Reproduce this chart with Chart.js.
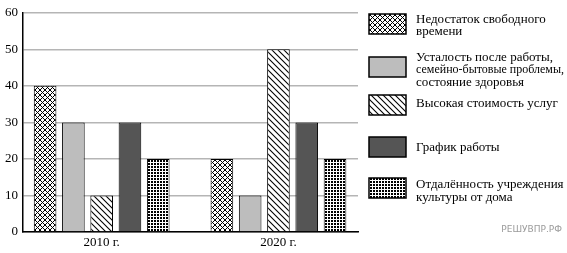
<!DOCTYPE html>
<html><head><meta charset="utf-8">
<script src="https://cdn.jsdelivr.net/npm/chart.js@4/dist/chart.umd.min.js"></script>
<style>html,body{margin:0;padding:0;background:#fff}#wrap{width:567px;height:253px;position:relative}</style>
</head><body><div id="wrap"><canvas id="c" width="567" height="253"></canvas></div>
<script>
const categories = ['2010 г.', '2020 г.'];
const seriesNames = [
  ['Недостаток свободного', 'времени'],
  ['Усталость после работы,', 'семейно-бытовые проблемы,', 'состояние здоровья'],
  ['Высокая стоимость услуг'],
  ['График работы'],
  ['Отдалённость учреждения', 'культуры от дома']
];
const lackOfTime = [40, 20];
const fatigue = [30, 10];
const highCost = [10, 50];
const schedule = [30, 30];
const distance = [20, 20];
const yTicks = [0, 10, 20, 30, 40, 50, 60];

function tile(w, h, draw) {
  const c = document.createElement('canvas'); c.width = w; c.height = h;
  const g = c.getContext('2d'); g.fillStyle = '#fff'; g.fillRect(0, 0, w, h); draw(g, w, h);
  return document.getElementById('c').getContext('2d').createPattern(c, 'repeat');
}
const pCross = tile(5, 5, (g, w, h) => {
  g.strokeStyle = '#000'; g.lineWidth = 1;
  g.beginPath(); g.moveTo(-1, -1); g.lineTo(w + 1, h + 1); g.moveTo(-1, h + 1); g.lineTo(w + 1, -1); g.stroke();
});
const pDiag = tile(6, 6, (g, w, h) => {
  g.strokeStyle = '#000'; g.lineWidth = 1.1;
  g.beginPath();
  for (let k = -1; k <= 1; k++) { g.moveTo(k * w - 1, -1); g.lineTo(k * w + w + 1, h + 1); }
  g.stroke();
});
const pGrid = tile(3, 3, (g) => { g.fillStyle = '#000'; g.fillRect(1, 1, 2, 2); });

const fills = [pCross, '#bdbdbd', pDiag, '#555555', pGrid];
const seriesValues = [lackOfTime, fatigue, highCost, schedule, distance];

const datasets = seriesValues.map((vals, i) => ({
  label: seriesNames[i].join(' '),
  data: vals.map((v, j) => ({ x: j, y: v })),
  backgroundColor: fills[i],
  borderColor: '#000',
  borderWidth: 1,
  categoryPercentage: 0.8,
  barPercentage: 0.8
}));

const legendPlugin = {
  id: 'sideLegend',
  afterDraw(chart) {
    const ctx = chart.ctx;
    const swTop = [14, 57, 95, 137, 178];
    const textMid = [25.5, 70, 104, 148, 191];
    ctx.save();
    ctx.font = '13px "Liberation Serif", "Times New Roman", serif';
    ctx.textBaseline = 'middle';
    ctx.fillStyle = '#000';
    seriesNames.forEach((lines, i) => {
      ctx.fillStyle = fills[i];
      ctx.fillRect(369, swTop[i], 37, 20);
      ctx.strokeStyle = '#000'; ctx.lineWidth = 1.5;
      ctx.strokeRect(369, swTop[i], 37, 20);
      ctx.fillStyle = '#000';
      const lh = 12.5;
      const start = textMid[i] - (lines.length - 1) * lh / 2;
      lines.forEach((t, k) => ctx.fillText(t, 416, start + k * lh, 148));
    });
    ctx.font = '9px "DejaVu Sans", sans-serif';
    ctx.fillStyle = '#9a9a9a';
    ctx.textAlign = 'right';
    ctx.fillText('РЕШУВПР.РФ', 562, 230);
    ctx.restore();
  }
};

new Chart(document.getElementById('c'), {
  type: 'bar',
  data: { datasets },
  options: {
    responsive: false,
    animation: false,
    devicePixelRatio: 1,
    layout: { padding: { left: 0, right: 209, top: 10, bottom: 0 } },
    plugins: { legend: { display: false }, tooltip: { enabled: false } },
    scales: {
      x: {
        type: 'linear',
        offset: false,
        min: -0.445, max: 1.45,
        afterBuildTicks(s) { s.ticks = categories.map((_, i) => ({ value: i })); },
        afterFit(s) { s.height = 21; },
        ticks: {
          callback: (v) => categories[v] ?? '',
          color: '#000', padding: 3,
          font: { family: '"Liberation Serif", serif', size: 13 }
        },
        grid: { display: false, drawTicks: false },
        border: { color: '#000', width: 1.5 }
      },
      y: {
        min: 0, max: 60,
        afterBuildTicks(s) { s.ticks = yTicks.map(v => ({ value: v })); },
        afterFit(s) { s.width = 23; },
        ticks: {
          color: '#000', padding: 5,
          font: { family: '"Liberation Serif", serif', size: 13 }
        },
        grid: { color: '#b5b5b5', lineWidth: 1.5, drawTicks: false },
        border: { color: '#000', width: 1.5 }
      }
    }
  },
  plugins: [legendPlugin]
});
</script></body></html>
